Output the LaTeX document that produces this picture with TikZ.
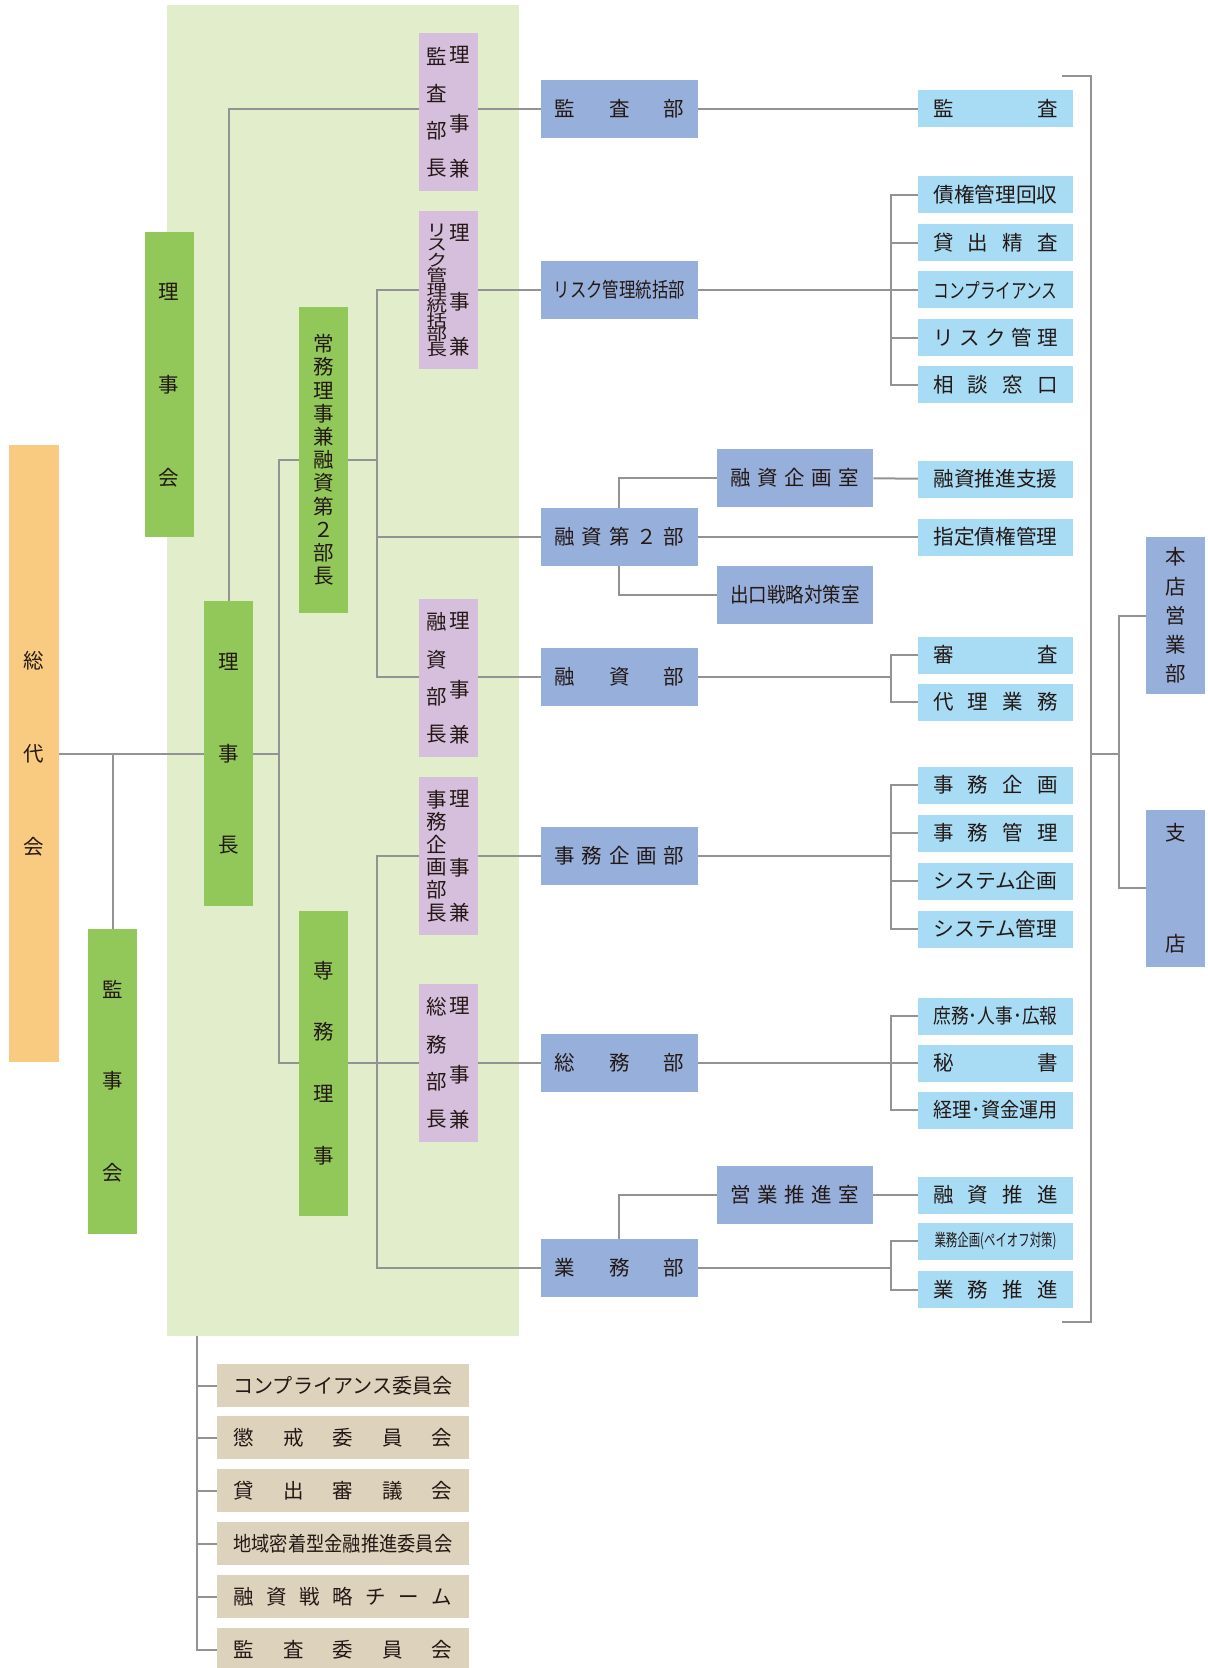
\documentclass[tikz,border=0pt]{standalone}
\usepackage{fontspec}
\setmainfont{Noto Sans CJK JP}
\usepackage{graphicx}

\definecolor{ink}{HTML}{231815}
\definecolor{wirecol}{HTML}{939393}
\definecolor{panelgreen}{HTML}{E1EDCB}
\definecolor{sodaiorange}{HTML}{F9CB80}
\definecolor{leafgreen}{HTML}{92C75A}
\definecolor{lilac}{HTML}{D6BFDD}
\definecolor{deptblue}{HTML}{97AFDB}
\definecolor{skyblue}{HTML}{A8DCF5}
\definecolor{sand}{HTML}{DDD3BD}

\newlength\px
\setlength\px{0.5pt}

% vertical text: [per-char macro]{pitch in px}{chars}
\newcommand\vstack[3][]{$\vcenter{\offinterlineskip
  \foreach \chr in {#3}{\vbox to #2\px{\vss\hbox to 23\px{\hss#1{\chr}\hss}\vss}}}$}
\newcommand\vsq[1]{\scalebox{1}[0.8]{#1}}
\newcommand\kenriji{\vstack{22.7}{理,{},{},事,{},兼}}
% spread / squeezed horizontal text
\newcommand\spr[2]{\makebox[#1\px]{#2}}
\newcommand\fit[2]{\resizebox{#1\px}{\height}{#2}}

\pgfdeclarelayer{panel}
\pgfdeclarelayer{wires}
\pgfsetlayers{panel,wires,main}

\tikzset{
  box/.style={inner sep=0pt, outer sep=0pt, text=ink},
  orangebox/.style={box, fill=sodaiorange, minimum width=50\px, minimum height=616\px},
  greenbox/.style={box, fill=leafgreen, minimum width=49\px, minimum height=305\px},
  purplebox/.style={box, fill=lilac, minimum width=58.7\px, minimum height=158\px},
  bluebox/.style={box, fill=deptblue, minimum width=156.6\px, minimum height=58.5\px},
  tallblue/.style={box, fill=deptblue, minimum width=59.3\px, minimum height=157\px},
  lightbox/.style={box, fill=skyblue, minimum width=155\px, minimum height=37\px},
  sandbox/.style={box, fill=sand, minimum width=252.3\px, minimum height=43\px},
  wire/.style={draw=wirecol, line width=2\px}
}

\begin{document}
\begin{tikzpicture}[x=0.5pt, y=-0.5pt, font=\fontsize{10.25}{12}\selectfont]
  \useasboundingbox (0,0) rectangle (1208,1668);

  \begin{pgfonlayer}{panel}
    \fill[panelgreen] (167,5) rectangle (519,1336); % board area
  \end{pgfonlayer}

  % left column
  \node[orangebox] (sodai) at (33.5,753.5) {\vstack{93}{総,代,会}};
  \node[greenbox] (rijikai) at (169,384.75) {\vstack{93}{理,事,会}};
  \node[greenbox] (richo) at (228.75,753.5) {\vstack{92}{理,事,長}};
  \node[greenbox] (kanjikai) at (112.5,1081) {\vstack{92}{監,事,会}};
  \node[greenbox] (jomu) at (323.5,460) {\vstack{23.2}{常,務,理,事,兼,融,資,第,２,部,長}};
  \node[greenbox] (senmu) at (323.5,1063) {\vstack{61.7}{専,務,理,事}};

  % department heads
  \node[purplebox] (kansacho) at (448.3,112) {\vstack{37.3}{監,査,部,長}\kenriji};
  \node[purplebox] (riskcho) at (448.3,290) {\vstack[\vsq]{14.9}{リ,ス,ク,管,理,統,括,部,長}\kenriji};
  \node[purplebox] (yushicho) at (448.3,678) {\vstack{37.3}{融,資,部,長}\kenriji};
  \node[purplebox] (jimucho) at (448.3,856) {\vstack{22.7}{事,務,企,画,部,長}\kenriji};
  \node[purplebox] (somucho) at (448.3,1063) {\vstack{37.3}{総,務,部,長}\kenriji};

  % departments
  \node[bluebox] (kansabu) at (619.3,109) {\spr{129}{監\hfill 査\hfill 部}};
  \node[bluebox] (riskbu) at (619.3,290) {\fit{131}{リスク管理統括部}};
  \node[bluebox] (yushi2) at (619.3,537) {\spr{129}{融\hfill 資\hfill 第\hfill ２\hfill 部}};
  \node[bluebox] (yushibu) at (619.3,677) {\spr{129}{融\hfill 資\hfill 部}};
  \node[bluebox] (jimubu) at (619.3,856) {\spr{129}{事\hfill 務\hfill 企\hfill 画\hfill 部}};
  \node[bluebox] (somubu) at (619.3,1063) {\spr{129}{総\hfill 務\hfill 部}};
  \node[bluebox] (gyomubu) at (619.3,1268) {\spr{129}{業\hfill 務\hfill 部}};

  % offices
  \node[bluebox] (kikaku) at (795,478) {\spr{129}{融\hfill 資\hfill 企\hfill 画\hfill 室}};
  \node[bluebox] (deguchi) at (795,595) {\fit{130}{出口戦略対策室}};
  \node[bluebox] (eigyo) at (795,1195) {\spr{129}{営\hfill 業\hfill 推\hfill 進\hfill 室}};

  % sections
  \foreach \y/\n/\txt in {
      109/kansa/{\spr{124}{監\hfill 査}},
      195/saiken/{\fit{124}{債権管理回収}},
      243/kashi/{\spr{124}{貸\hfill 出\hfill 精\hfill 査}},
      290/compl/{\fit{124}{コンプライアンス}},
      338/riskkan/{\spr{124}{リ\hfill ス\hfill ク\hfill 管\hfill 理}},
      385/sodan/{\spr{124}{相\hfill 談\hfill 窓\hfill 口}},
      479/shien/{\fit{124}{融資推進支援}},
      537/shitei/{\fit{124}{指定債権管理}},
      655/shinsa/{\spr{124}{審\hfill 査}},
      702/dairi/{\spr{124}{代\hfill 理\hfill 業\hfill 務}},
      785/jkikaku/{\spr{124}{事\hfill 務\hfill 企\hfill 画}},
      833/jkanri/{\spr{124}{事\hfill 務\hfill 管\hfill 理}},
      881/skikaku/{\fit{124}{システム企画}},
      929/skanri/{\fit{124}{システム管理}},
      1016/shomu/{\fit{124}{庶務･人事･広報}},
      1063/hisho/{\spr{124}{秘\hfill 書}},
      1110/keiri/{\fit{124}{経理･資金運用}},
      1195/ysuishin/{\spr{124}{融\hfill 資\hfill 推\hfill 進}},
      1241/gkikaku/{\fit{122}{\fontsize{8.5}{10}\selectfont 業務企画(ペイオフ対策)}},
      1289.5/gsuishin/{\spr{124}{業\hfill 務\hfill 推\hfill 進}}}
    \node[lightbox] (\n) at (995.5,\y) {\txt};

  % branches
  \node[tallblue] (honten) at (1175.4,615.5) {\vstack{29.25}{本,店,営,業,部}};
  \node[tallblue] (shiten) at (1175.4,888) {\vstack{22.2}{支,{},{},{},{},店}};

  % committees
  \foreach \y/\n/\txt in {
      1385.5/compiin/{\fit{219}{コンプライアンス委員会}},
      1437.5/chokai/{\spr{219}{懲\hfill 戒\hfill 委\hfill 員\hfill 会}},
      1490.5/shingi/{\spr{219}{貸\hfill 出\hfill 審\hfill 議\hfill 会}},
      1543.5/chiiki/{\fit{219}{地域密着型金融推進委員会}},
      1596.5/senryaku/{\spr{219}{融\hfill 資\hfill 戦\hfill 略\hfill チ\hfill ー\hfill ム}},
      1649.5/kansaiin/{\spr{219}{監\hfill 査\hfill 委\hfill 員\hfill 会}}}
    \node[sandbox] (\n) at (342.9,\y) {\txt};

  \begin{pgfonlayer}{wires}
    % board
    \coordinate (rj) at (279,753.5);
    \coordinate (jb) at (377,460);
    \coordinate (sb) at (377,1063);
    \draw[wire] (sodai) -- (richo);
    \draw[wire] (kanjikai) -- (kanjikai |- sodai);
    \draw[wire] (richo) |- (kansabu);
    \draw[wire] (richo) -- (rj);
    \draw[wire] (jomu) -| (rj) |- (senmu);
    \draw[wire] (jomu) -- (jb);
    \draw[wire] (riskbu) -| (jb) |- (yushibu);
    \draw[wire] (jb) |- (yushi2);
    \draw[wire] (senmu) -- (somubu);
    \draw[wire] (jimubu) -| (sb) |- (gyomubu);

    % departments to sections
    \draw[wire] (kansabu) -- (kansa);
    \draw[wire] (yushi2) -- (shitei);
    \draw[wire] (yushi2) |- (kikaku);
    \draw[wire] (yushi2) |- (deguchi);
    \draw[wire] (kikaku) -- (shien);
    \draw[wire] (gyomubu) |- (eigyo);
    \draw[wire] (eigyo) -- (ysuishin);

    \coordinate (rb) at (891,290);
    \coordinate (yb) at (891,677);
    \coordinate (jb2) at (891,856);
    \coordinate (sb2) at (891,1063);
    \coordinate (gb) at (891,1268);
    \draw[wire] (riskbu) -- (rb);
    \foreach \n in {saiken,kashi,compl,riskkan,sodan} \draw[wire] (\n) -| (rb);
    \draw[wire] (yushibu) -- (yb);
    \foreach \n in {shinsa,dairi} \draw[wire] (\n) -| (yb);
    \draw[wire] (jimubu) -- (jb2);
    \foreach \n in {jkikaku,jkanri,skikaku,skanri} \draw[wire] (\n) -| (jb2);
    \draw[wire] (somubu) -- (sb2);
    \foreach \n in {shomu,hisho,keiri} \draw[wire] (\n) -| (sb2);
    \draw[wire] (gyomubu) -- (gb);
    \foreach \n in {gkikaku,gsuishin} \draw[wire] (\n) -| (gb);

    % bracket to branches
    \draw[wire] (1062,76) -| (1091,1322) -- (1062,1322);
    \coordinate (brk) at (1091,753.5);
    \coordinate (bj) at (1119,753.5);
    \draw[wire] (brk) -- (bj);
    \draw[wire] (honten) -| (bj) |- (shiten);

    % committees
    \coordinate (ctop) at (197,1336);
    \foreach \n in {compiin,chokai,shingi,chiiki,senryaku,kansaiin} \draw[wire] (\n) -| (ctop);
  \end{pgfonlayer}
\end{tikzpicture}
\end{document}
